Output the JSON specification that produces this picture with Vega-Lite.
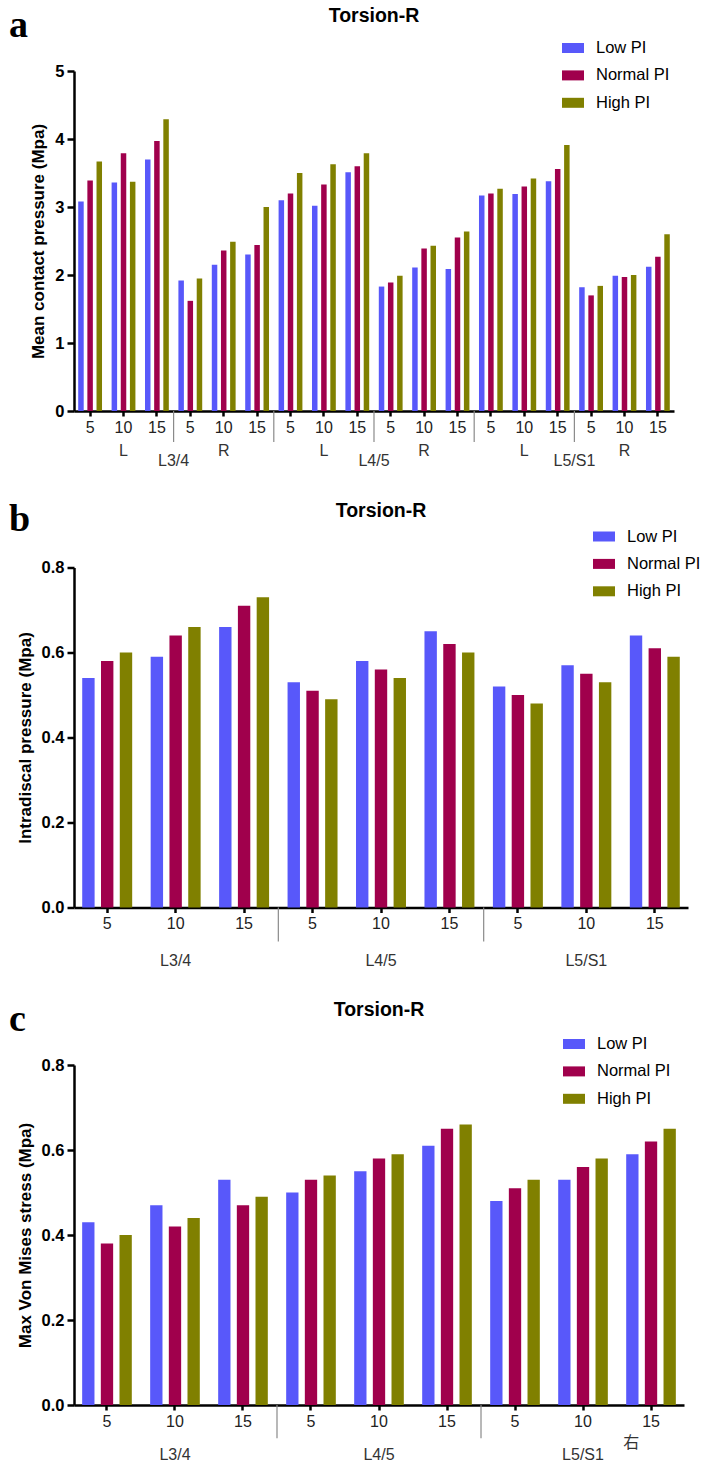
{
  "$schema": "https://vega.github.io/schema/vega-lite/v6.json",
  "background": "white",
  "padding": {"left": 8, "top": 6, "right": 0, "bottom": 0},
  "spacing": 31.5,
  "columns": 1,
  "resolve": {"scale": {"color": "independent", "xOffset": "independent", "x": "independent", "y": "independent"}, "legend": {"color": "independent"}, "axis": {"x": "independent", "y": "independent"}},
  "datasets": {
    "a": [
      {"cat": "L3/4|L|5", "pi": "Low PI", "value": 3.08}, {"cat": "L3/4|L|5", "pi": "Normal PI", "value": 3.39}, {"cat": "L3/4|L|5", "pi": "High PI", "value": 3.67},
      {"cat": "L3/4|L|10", "pi": "Low PI", "value": 3.36}, {"cat": "L3/4|L|10", "pi": "Normal PI", "value": 3.79}, {"cat": "L3/4|L|10", "pi": "High PI", "value": 3.37},
      {"cat": "L3/4|L|15", "pi": "Low PI", "value": 3.70}, {"cat": "L3/4|L|15", "pi": "Normal PI", "value": 3.97}, {"cat": "L3/4|L|15", "pi": "High PI", "value": 4.29},
      {"cat": "L3/4|R|5", "pi": "Low PI", "value": 1.92}, {"cat": "L3/4|R|5", "pi": "Normal PI", "value": 1.62}, {"cat": "L3/4|R|5", "pi": "High PI", "value": 1.95},
      {"cat": "L3/4|R|10", "pi": "Low PI", "value": 2.15}, {"cat": "L3/4|R|10", "pi": "Normal PI", "value": 2.36}, {"cat": "L3/4|R|10", "pi": "High PI", "value": 2.49},
      {"cat": "L3/4|R|15", "pi": "Low PI", "value": 2.30}, {"cat": "L3/4|R|15", "pi": "Normal PI", "value": 2.44}, {"cat": "L3/4|R|15", "pi": "High PI", "value": 3.00},
      {"cat": "L4/5|L|5", "pi": "Low PI", "value": 3.10}, {"cat": "L4/5|L|5", "pi": "Normal PI", "value": 3.20}, {"cat": "L4/5|L|5", "pi": "High PI", "value": 3.50},
      {"cat": "L4/5|L|10", "pi": "Low PI", "value": 3.02}, {"cat": "L4/5|L|10", "pi": "Normal PI", "value": 3.33}, {"cat": "L4/5|L|10", "pi": "High PI", "value": 3.63},
      {"cat": "L4/5|L|15", "pi": "Low PI", "value": 3.51}, {"cat": "L4/5|L|15", "pi": "Normal PI", "value": 3.60}, {"cat": "L4/5|L|15", "pi": "High PI", "value": 3.79},
      {"cat": "L4/5|R|5", "pi": "Low PI", "value": 1.83}, {"cat": "L4/5|R|5", "pi": "Normal PI", "value": 1.89}, {"cat": "L4/5|R|5", "pi": "High PI", "value": 1.99},
      {"cat": "L4/5|R|10", "pi": "Low PI", "value": 2.11}, {"cat": "L4/5|R|10", "pi": "Normal PI", "value": 2.39}, {"cat": "L4/5|R|10", "pi": "High PI", "value": 2.43},
      {"cat": "L4/5|R|15", "pi": "Low PI", "value": 2.09}, {"cat": "L4/5|R|15", "pi": "Normal PI", "value": 2.55}, {"cat": "L4/5|R|15", "pi": "High PI", "value": 2.64},
      {"cat": "L5/S1|L|5", "pi": "Low PI", "value": 3.17}, {"cat": "L5/S1|L|5", "pi": "Normal PI", "value": 3.20}, {"cat": "L5/S1|L|5", "pi": "High PI", "value": 3.27},
      {"cat": "L5/S1|L|10", "pi": "Low PI", "value": 3.19}, {"cat": "L5/S1|L|10", "pi": "Normal PI", "value": 3.30}, {"cat": "L5/S1|L|10", "pi": "High PI", "value": 3.42},
      {"cat": "L5/S1|L|15", "pi": "Low PI", "value": 3.38}, {"cat": "L5/S1|L|15", "pi": "Normal PI", "value": 3.56}, {"cat": "L5/S1|L|15", "pi": "High PI", "value": 3.91},
      {"cat": "L5/S1|R|5", "pi": "Low PI", "value": 1.82}, {"cat": "L5/S1|R|5", "pi": "Normal PI", "value": 1.70}, {"cat": "L5/S1|R|5", "pi": "High PI", "value": 1.84},
      {"cat": "L5/S1|R|10", "pi": "Low PI", "value": 1.99}, {"cat": "L5/S1|R|10", "pi": "Normal PI", "value": 1.97}, {"cat": "L5/S1|R|10", "pi": "High PI", "value": 2.00},
      {"cat": "L5/S1|R|15", "pi": "Low PI", "value": 2.12}, {"cat": "L5/S1|R|15", "pi": "Normal PI", "value": 2.27}, {"cat": "L5/S1|R|15", "pi": "High PI", "value": 2.60}
    ],
    "b": [
      {"cat": "L3/4|5", "pi": "Low PI", "value": 0.54}, {"cat": "L3/4|5", "pi": "Normal PI", "value": 0.58}, {"cat": "L3/4|5", "pi": "High PI", "value": 0.60},
      {"cat": "L3/4|10", "pi": "Low PI", "value": 0.59}, {"cat": "L3/4|10", "pi": "Normal PI", "value": 0.64}, {"cat": "L3/4|10", "pi": "High PI", "value": 0.66},
      {"cat": "L3/4|15", "pi": "Low PI", "value": 0.66}, {"cat": "L3/4|15", "pi": "Normal PI", "value": 0.71}, {"cat": "L3/4|15", "pi": "High PI", "value": 0.73},
      {"cat": "L4/5|5", "pi": "Low PI", "value": 0.53}, {"cat": "L4/5|5", "pi": "Normal PI", "value": 0.51}, {"cat": "L4/5|5", "pi": "High PI", "value": 0.49},
      {"cat": "L4/5|10", "pi": "Low PI", "value": 0.58}, {"cat": "L4/5|10", "pi": "Normal PI", "value": 0.56}, {"cat": "L4/5|10", "pi": "High PI", "value": 0.54},
      {"cat": "L4/5|15", "pi": "Low PI", "value": 0.65}, {"cat": "L4/5|15", "pi": "Normal PI", "value": 0.62}, {"cat": "L4/5|15", "pi": "High PI", "value": 0.60},
      {"cat": "L5/S1|5", "pi": "Low PI", "value": 0.52}, {"cat": "L5/S1|5", "pi": "Normal PI", "value": 0.50}, {"cat": "L5/S1|5", "pi": "High PI", "value": 0.48},
      {"cat": "L5/S1|10", "pi": "Low PI", "value": 0.57}, {"cat": "L5/S1|10", "pi": "Normal PI", "value": 0.55}, {"cat": "L5/S1|10", "pi": "High PI", "value": 0.53},
      {"cat": "L5/S1|15", "pi": "Low PI", "value": 0.64}, {"cat": "L5/S1|15", "pi": "Normal PI", "value": 0.61}, {"cat": "L5/S1|15", "pi": "High PI", "value": 0.59}
    ],
    "c": [
      {"cat": "L3/4|5", "pi": "Low PI", "value": 0.43}, {"cat": "L3/4|5", "pi": "Normal PI", "value": 0.38}, {"cat": "L3/4|5", "pi": "High PI", "value": 0.40},
      {"cat": "L3/4|10", "pi": "Low PI", "value": 0.47}, {"cat": "L3/4|10", "pi": "Normal PI", "value": 0.42}, {"cat": "L3/4|10", "pi": "High PI", "value": 0.44},
      {"cat": "L3/4|15", "pi": "Low PI", "value": 0.53}, {"cat": "L3/4|15", "pi": "Normal PI", "value": 0.47}, {"cat": "L3/4|15", "pi": "High PI", "value": 0.49},
      {"cat": "L4/5|5", "pi": "Low PI", "value": 0.50}, {"cat": "L4/5|5", "pi": "Normal PI", "value": 0.53}, {"cat": "L4/5|5", "pi": "High PI", "value": 0.54},
      {"cat": "L4/5|10", "pi": "Low PI", "value": 0.55}, {"cat": "L4/5|10", "pi": "Normal PI", "value": 0.58}, {"cat": "L4/5|10", "pi": "High PI", "value": 0.59},
      {"cat": "L4/5|15", "pi": "Low PI", "value": 0.61}, {"cat": "L4/5|15", "pi": "Normal PI", "value": 0.65}, {"cat": "L4/5|15", "pi": "High PI", "value": 0.66},
      {"cat": "L5/S1|5", "pi": "Low PI", "value": 0.48}, {"cat": "L5/S1|5", "pi": "Normal PI", "value": 0.51}, {"cat": "L5/S1|5", "pi": "High PI", "value": 0.53},
      {"cat": "L5/S1|10", "pi": "Low PI", "value": 0.53}, {"cat": "L5/S1|10", "pi": "Normal PI", "value": 0.56}, {"cat": "L5/S1|10", "pi": "High PI", "value": 0.58},
      {"cat": "L5/S1|15", "pi": "Low PI", "value": 0.59}, {"cat": "L5/S1|15", "pi": "Normal PI", "value": 0.62}, {"cat": "L5/S1|15", "pi": "High PI", "value": 0.65}
    ],
    "aSep": [{"cat": "L3/4|L|15"}, {"cat": "L3/4|R|15"}, {"cat": "L4/5|L|15"}, {"cat": "L4/5|R|15"}, {"cat": "L5/S1|L|15"}],
    "aSide": [
      {"cat": "L3/4|L|10", "label": "L"}, {"cat": "L3/4|R|10", "label": "R"},
      {"cat": "L4/5|L|10", "label": "L"}, {"cat": "L4/5|R|10", "label": "R"},
      {"cat": "L5/S1|L|10", "label": "L"}, {"cat": "L5/S1|R|10", "label": "R"}
    ],
    "aLevel": [{"cat": "L3/4|L|15", "label": "L3/4"}, {"cat": "L4/5|L|15", "label": "L4/5"}, {"cat": "L5/S1|L|15", "label": "L5/S1"}],
    "aLetter": [{"cat": "L3/4|L|5", "label": "a"}],
    "aTitle": [{"cat": "L4/5|L|15", "label": "Torsion-R"}],
    "bcSep": [{"cat": "L3/4|15"}, {"cat": "L4/5|15"}],
    "bcLevel": [{"cat": "L3/4|10", "label": "L3/4"}, {"cat": "L4/5|10", "label": "L4/5"}, {"cat": "L5/S1|10", "label": "L5/S1"}],
    "bcTitle": [{"cat": "L4/5|10", "label": "Torsion-R"}],
    "bLetter": [{"cat": "L3/4|5", "label": "b"}],
    "cLetter": [{"cat": "L3/4|5", "label": "c"}],
    "cNote": [{"cat": "L5/S1|15", "label": "右"}]
  },
  "concat": [
    {
      "width": 600,
      "height": 340,
      "layer": [
        {
          "data": {"name": "a"},
          "mark": {"type": "bar"},
          "encoding": {
            "x": {"field": "cat", "type": "nominal", "title": null,
              "scale": {"domain": ["L3/4|L|5","L3/4|L|10","L3/4|L|15","L3/4|R|5","L3/4|R|10","L3/4|R|15","L4/5|L|5","L4/5|L|10","L4/5|L|15","L4/5|R|5","L4/5|R|10","L4/5|R|15","L5/S1|L|5","L5/S1|L|10","L5/S1|L|15","L5/S1|R|5","L5/S1|R|10","L5/S1|R|15"], "paddingInner": 0.287, "paddingOuter": 0.126},
              "axis": {"labelExpr": "split(datum.value, '|')[2]"}},
            "xOffset": {"field": "pi", "type": "nominal", "scale": {"domain": ["Low PI", "Normal PI", "High PI"], "paddingInner": 0.4, "paddingOuter": 0}},
            "y": {"field": "value", "type": "quantitative", "title": "Mean contact pressure (Mpa)", "scale": {"domain": [0, 5], "nice": false},
              "axis": {"values": [0, 1, 2, 3, 4, 5], "format": "d"}},
            "color": {"field": "pi", "type": "nominal",
              "scale": {"domain": ["Low PI", "Normal PI", "High PI"], "range": ["#5858FA", "#A0004C", "#808000"]},
              "legend": {"orient": "none", "legendX": 488, "legendY": -34}}
          }
        },
        {
          "data": {"name": "aSep"},
          "mark": {"type": "rule", "color": "#8a8a8a", "strokeWidth": 1.2},
          "encoding": {
            "x": {"field": "cat", "type": "nominal", "bandPosition": 1.201, "title": null},
            "y": {"datum": 0, "title": "Mean contact pressure (Mpa)"},
            "y2": {"datum": -0.456}
          }
        },
        {
          "data": {"name": "aSide"},
          "mark": {"type": "text", "dy": 40, "baseline": "middle", "align": "center", "fontSize": 16, "color": "#333333"},
          "encoding": {
            "x": {"field": "cat", "type": "nominal", "bandPosition": 0.5, "title": null},
            "y": {"datum": 0, "title": "Mean contact pressure (Mpa)"},
            "text": {"field": "label"}
          }
        },
        {
          "data": {"name": "aLevel"},
          "mark": {"type": "text", "dy": 50, "baseline": "middle", "align": "center", "fontSize": 16, "color": "#333333"},
          "encoding": {
            "x": {"field": "cat", "type": "nominal", "bandPosition": 1.201, "title": null},
            "y": {"datum": 0, "title": "Mean contact pressure (Mpa)"},
            "text": {"field": "label"}
          }
        },
        {
          "data": {"name": "aTitle"},
          "mark": {"type": "text", "baseline": "alphabetic", "align": "center", "fontSize": 19.5, "fontWeight": "bold", "color": "black"},
          "encoding": {
            "x": {"field": "cat", "type": "nominal", "bandPosition": 1.201, "title": null},
            "y": {"datum": 5.72, "title": "Mean contact pressure (Mpa)"},
            "text": {"field": "label"}
          }
        },
        {
          "data": {"name": "aLetter"},
          "mark": {"type": "text", "baseline": "alphabetic", "align": "left", "font": "Liberation Serif", "fontSize": 38, "fontWeight": "bold", "color": "black"},
          "encoding": {
            "x": {"field": "cat", "type": "nominal", "bandPosition": -2.906, "title": null},
            "y": {"datum": 5.5, "title": "Mean contact pressure (Mpa)"},
            "text": {"field": "label"}
          }
        }
      ]
    },
    {
      "width": 614,
      "height": 340,
      "layer": [
        {
          "data": {"name": "b"},
          "mark": {"type": "bar"},
          "encoding": {
            "x": {"field": "cat", "type": "nominal", "title": null,
              "scale": {"domain": ["L3/4|5","L3/4|10","L3/4|15","L4/5|5","L4/5|10","L4/5|15","L5/S1|5","L5/S1|10","L5/S1|15"], "paddingInner": 0.27, "paddingOuter": 0.12},
              "axis": {"labelExpr": "split(datum.value, '|')[1]"}},
            "xOffset": {"field": "pi", "type": "nominal", "scale": {"domain": ["Low PI", "Normal PI", "High PI"], "paddingInner": 0.34, "paddingOuter": 0}},
            "y": {"field": "value", "type": "quantitative", "title": "Intradiscal pressure (Mpa)", "scale": {"domain": [0, 0.8], "nice": false},
              "axis": {"values": [0, 0.2, 0.4, 0.6, 0.8], "format": ".1f"}},
            "color": {"field": "pi", "type": "nominal",
              "scale": {"domain": ["Low PI", "Normal PI", "High PI"], "range": ["#5858FA", "#A0004C", "#808000"]},
              "legend": {"orient": "none", "legendX": 519, "legendY": -42}}
          }
        },
        {
          "data": {"name": "bcSep"},
          "mark": {"type": "rule", "color": "#8a8a8a", "strokeWidth": 1.2},
          "encoding": {
            "x": {"field": "cat", "type": "nominal", "bandPosition": 1.185, "title": null},
            "y": {"datum": 0, "title": "Intradiscal pressure (Mpa)"},
            "y2": {"datum": -0.08}
          }
        },
        {
          "data": {"name": "bcLevel"},
          "mark": {"type": "text", "dy": 53, "baseline": "middle", "align": "center", "fontSize": 16, "color": "#333333"},
          "encoding": {
            "x": {"field": "cat", "type": "nominal", "bandPosition": 0.5, "title": null},
            "y": {"datum": 0, "title": "Intradiscal pressure (Mpa)"},
            "text": {"field": "label"}
          }
        },
        {
          "data": {"name": "bcTitle"},
          "mark": {"type": "text", "baseline": "alphabetic", "align": "center", "fontSize": 19.5, "fontWeight": "bold", "color": "black"},
          "encoding": {
            "x": {"field": "cat", "type": "nominal", "bandPosition": 0.5, "title": null},
            "y": {"datum": 0.918, "title": "Intradiscal pressure (Mpa)"},
            "text": {"field": "label"}
          }
        },
        {
          "data": {"name": "bLetter"},
          "mark": {"type": "text", "baseline": "alphabetic", "align": "left", "font": "Liberation Serif", "fontSize": 38, "fontWeight": "bold", "color": "black"},
          "encoding": {
            "x": {"field": "cat", "type": "nominal", "bandPosition": -1.465, "title": null},
            "y": {"datum": 0.885, "title": "Intradiscal pressure (Mpa)"},
            "text": {"field": "label"}
          }
        }
      ]
    },
    {
      "width": 610,
      "height": 340,
      "layer": [
        {
          "data": {"name": "c"},
          "mark": {"type": "bar"},
          "encoding": {
            "x": {"field": "cat", "type": "nominal", "title": null,
              "scale": {"domain": ["L3/4|5","L3/4|10","L3/4|15","L4/5|5","L4/5|10","L4/5|15","L5/S1|5","L5/S1|10","L5/S1|15"], "paddingInner": 0.27, "paddingOuter": 0.12},
              "axis": {"labelExpr": "split(datum.value, '|')[1]"}},
            "xOffset": {"field": "pi", "type": "nominal", "scale": {"domain": ["Low PI", "Normal PI", "High PI"], "paddingInner": 0.34, "paddingOuter": 0}},
            "y": {"field": "value", "type": "quantitative", "title": "Max Von Mises stress (Mpa)", "scale": {"domain": [0, 0.8], "nice": false},
              "axis": {"values": [0, 0.2, 0.4, 0.6, 0.8], "format": ".1f"}},
            "color": {"field": "pi", "type": "nominal",
              "scale": {"domain": ["Low PI", "Normal PI", "High PI"], "range": ["#5858FA", "#A0004C", "#808000"]},
              "legend": {"orient": "none", "legendX": 489, "legendY": -32}}
          }
        },
        {
          "data": {"name": "bcSep"},
          "mark": {"type": "rule", "color": "#8a8a8a", "strokeWidth": 1.2},
          "encoding": {
            "x": {"field": "cat", "type": "nominal", "bandPosition": 1.185, "title": null},
            "y": {"datum": 0, "title": "Max Von Mises stress (Mpa)"},
            "y2": {"datum": -0.078}
          }
        },
        {
          "data": {"name": "bcLevel"},
          "mark": {"type": "text", "dy": 50, "baseline": "middle", "align": "center", "fontSize": 16, "color": "#333333"},
          "encoding": {
            "x": {"field": "cat", "type": "nominal", "bandPosition": 0.5, "title": null},
            "y": {"datum": 0, "title": "Max Von Mises stress (Mpa)"},
            "text": {"field": "label"}
          }
        },
        {
          "data": {"name": "cNote"},
          "mark": {"type": "text", "dy": 38, "baseline": "middle", "align": "center", "fontSize": 16, "font": "Noto Sans CJK SC", "color": "#333333"},
          "encoding": {
            "x": {"field": "cat", "type": "nominal", "bandPosition": 0.1, "title": null},
            "y": {"datum": 0, "title": "Max Von Mises stress (Mpa)"},
            "text": {"field": "label"}
          }
        },
        {
          "data": {"name": "bcTitle"},
          "mark": {"type": "text", "baseline": "alphabetic", "align": "center", "fontSize": 19.5, "fontWeight": "bold", "color": "black"},
          "encoding": {
            "x": {"field": "cat", "type": "nominal", "bandPosition": 0.5, "title": null},
            "y": {"datum": 0.915, "title": "Max Von Mises stress (Mpa)"},
            "text": {"field": "label"}
          }
        },
        {
          "data": {"name": "cLetter"},
          "mark": {"type": "text", "baseline": "alphabetic", "align": "left", "font": "Liberation Serif", "fontSize": 38, "fontWeight": "bold", "color": "black"},
          "encoding": {
            "x": {"field": "cat", "type": "nominal", "bandPosition": -1.474, "title": null},
            "y": {"datum": 0.88, "title": "Max Von Mises stress (Mpa)"},
            "text": {"field": "label"}
          }
        }
      ]
    }
  ],
  "config": {
    "font": "Liberation Sans",
    "view": {"stroke": null},
    "text": {"font": "Liberation Sans"},
    "axis": {"grid": false, "domainColor": "black", "domainWidth": 2.5, "tickColor": "black", "tickWidth": 2.5, "labelColor": "black", "titleColor": "black", "labelFont": "Liberation Sans", "titleFont": "Liberation Sans"},
    "axisY": {"tickSize": 7, "labelFontSize": 16.5, "labelFontWeight": "bold", "labelPadding": 3, "titleFontSize": 17, "titleFontWeight": "bold", "titlePadding": 7},
    "axisX": {"tickSize": 5, "labelFontSize": 16, "labelFontWeight": "normal", "labelPadding": 3, "labelAngle": 0, "labelColor": "#222222"},
    "legend": {"title": null, "direction": "vertical", "symbolType": "M-1,-0.4545H1V0.4545H-1Z", "symbolSize": 484, "symbolStrokeWidth": 0, "symbolOpacity": 1, "labelFont": "Liberation Sans", "labelFontSize": 16.5, "labelColor": "black", "labelOffset": 12, "rowPadding": 7.4, "padding": 0}
  }
}
